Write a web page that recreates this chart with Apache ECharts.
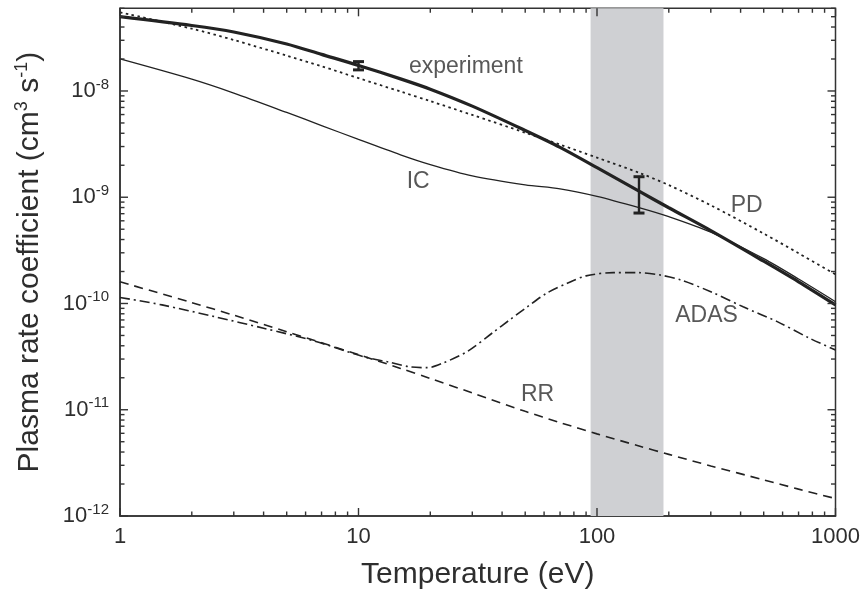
<!DOCTYPE html>
<html>
<head>
<meta charset="utf-8">
<script src="https://cdn.jsdelivr.net/npm/echarts@6/dist/echarts.min.js"></script>
<style>
  html, body { margin: 0; padding: 0; background: #ffffff; }
  #chart { width: 865px; height: 594px; }
</style>
</head>
<body>
<div id="chart"></div>
<script>
// Temperature grid (eV) shared by the experiment, IC, PD and RR curves
const temperature = [1, 2, 3, 5, 7, 10, 15, 20, 30, 50, 70, 100, 150, 200, 300, 500, 700, 1000];

// Plasma rate coefficients (cm^3 s^-1)
const experiment = [5.0e-8, 4.13e-8, 3.59e-8, 2.77e-8, 2.21e-8, 1.74e-8, 1.30e-8, 1.04e-8, 7.2e-9, 4.25e-9,
                    2.95e-9, 1.9e-9, 1.14e-9, 7.96e-10, 4.85e-10, 2.5e-10, 1.6e-10, 9.7e-11];
const ic = [2.0e-8, 1.29e-8, 9.55e-9, 6.28e-9, 4.73e-9, 3.5e-9, 2.51e-9, 2.03e-9, 1.59e-9, 1.31e-9,
            1.2e-9, 1.02e-9, 7.98e-10, 6.56e-10, 4.68e-10, 2.64e-10, 1.7e-10, 1.04e-10];
const pd = [5.5e-8, 3.86e-8, 3.02e-8, 2.15e-8, 1.71e-8, 1.32e-8, 9.88e-9, 8.02e-9, 5.95e-9, 4.05e-9,
            3.13e-9, 2.36e-9, 1.7e-9, 1.3e-9, 8.4e-10, 4.55e-10, 2.97e-10, 1.88e-10];
const rr = [1.6e-10, 1.02e-10, 7.76e-11, 5.42e-11, 4.27e-11, 3.3e-11, 2.45e-11, 1.97e-11, 1.44e-11, 9.66e-12,
            7.57e-12, 5.93e-12, 4.56e-12, 3.8e-12, 2.96e-12, 2.19e-12, 1.79e-12, 1.46e-12];

// ADAS has its own, denser temperature grid around the resonance bump
const adasT = [1, 1.5, 2.5, 4, 6.5, 10.5, 13.5, 16.5, 19.5, 22.5, 28.5, 37, 43, 51, 61.5, 75, 90,
               117, 150, 185, 225, 300, 410, 570, 780, 1000];
const adas = [1.14e-10, 9.7e-11, 7.5e-11, 5.85e-11, 4.45e-11, 3.16e-11, 2.8e-11, 2.53e-11, 2.49e-11,
              2.74e-11, 3.52e-11, 5.43e-11, 7.0e-11, 9.3e-11, 1.25e-10, 1.55e-10, 1.82e-10, 1.95e-10,
              1.95e-10, 1.85e-10, 1.66e-10, 1.29e-10, 9.3e-11, 6.75e-11, 4.7e-11, 3.65e-11];

// Measured points with uncertainty
const errT = [10, 150];
const errLow = [1.58e-8, 7.1e-10];
const errHigh = [1.89e-8, 1.56e-9];

// Shaded temperature range (eV)
const bandT = [94, 190];

// Curve annotations
const annoText = ['experiment', 'IC', 'PD', 'ADAS', 'RR'];
const annoT = [28.2, 17.8, 424, 288, 56.3];
const annoV = [1.68e-8, 1.4e-9, 8.36e-10, 7.66e-11, 1.4e-11];

// Axis ranges and labelled ticks
const xMin = 1, xMax = 1000;
const yMin = 1e-12, yMax = 6e-8;
const xTickLabels = ['1', '10', '100', '1000'];

const FONT = 'Liberation Sans, Arial, Helvetica, sans-serif';
const INK = '#222222';
const TEXT = '#2e2e2e';
const FRAME = '#333333';

// Tick marks for a log axis: every 1..9 x 10^e inside [lo, hi]; decades get the long mark
function logTicks(lo, hi) {
  const out = [];
  for (let e = Math.floor(Math.log10(lo)); e <= Math.ceil(Math.log10(hi)); e++) {
    for (let k = 1; k <= 9; k++) {
      const v = k * Math.pow(10, e);
      if (v >= lo * (1 - 1e-9) && v <= hi * (1 + 1e-9)) out.push([v, k === 1 ? 1 : 0]);
    }
  }
  return out;
}
const xTicks = logTicks(xMin, xMax);
const yTicks = logTicks(yMin, yMax);

const MAJOR_LEN = 8, MINOR_LEN = 4.5;
const TICK_STYLE = { stroke: FRAME, lineWidth: 1.4 };

const zip = (xs, ys) => xs.map((x, i) => [x, ys[i]]);

function isPow10(v) {
  const e = Math.log10(v);
  return Math.abs(e - Math.round(e)) < 1e-6;
}

// A custom series that draws inward tick marks along one edge of the frame;
// the frame edges come from the axes themselves
function tickSeries(edge) {
  const horizontal = edge === 'bottom' || edge === 'top';
  const data = horizontal ? xTicks.map(t => [t[0], yMin, t[1]]) : yTicks.map(t => [xMin, t[0], t[1]]);
  return {
    name: 'ticks-' + edge, type: 'custom', silent: true, z: 11, clip: false,
    encode: { x: 0, y: 1 },
    data: data,
    renderItem: (params, api) => {
      const len = api.value(2) ? MAJOR_LEN : MINOR_LEN;
      const p = api.coord([api.value(0), api.value(1)]);
      const lowCorner = api.coord([xMin, yMin]);
      const highCorner = api.coord([xMax, yMax]);
      let shape;
      if (edge === 'bottom') {
        shape = { x1: p[0], y1: lowCorner[1], x2: p[0], y2: lowCorner[1] - len };
      } else if (edge === 'top') {
        shape = { x1: p[0], y1: highCorner[1], x2: p[0], y2: highCorner[1] + len };
      } else if (edge === 'left') {
        shape = { x1: lowCorner[0], y1: p[1], x2: lowCorner[0] + len, y2: p[1] };
      } else {
        shape = { x1: highCorner[0], y1: p[1], x2: highCorner[0] - len, y2: p[1] };
      }
      return { type: 'line', shape: shape, style: TICK_STYLE };
    }
  };
}

const chart = echarts.init(document.getElementById('chart'), null, { renderer: 'canvas' });

const lineBase = { type: 'line', symbol: 'none', smooth: 0.3, silent: true, z: 3 };

chart.setOption({
  animation: false,
  backgroundColor: '#ffffff',
  textStyle: { fontFamily: FONT },
  grid: {
    left: 120, right: 29.5, top: 8.3, bottom: 78, containLabel: false, outerBoundsMode: 'none',
    show: true, borderColor: FRAME, borderWidth: 1.5
  },
  xAxis: {
    type: 'log', logBase: 10, min: xMin, max: xMax,
    axisLine: { show: true, lineStyle: { color: FRAME, width: 1.5 } },
    axisTick: { show: false },
    splitLine: { show: false },
    minorTick: { show: false },
    name: 'Temperature (eV)', nameLocation: 'middle', nameGap: 44,
    nameTextStyle: { fontSize: 30, color: TEXT, fontFamily: FONT },
    axisLabel: {
      show: true, margin: 10, fontSize: 22, color: TEXT, fontFamily: FONT,
      formatter: v => isPow10(v) ? (xTickLabels[Math.round(Math.log10(v))] || '') : ''
    }
  },
  yAxis: {
    type: 'log', logBase: 10, min: yMin, max: yMax,
    axisLine: { show: true, lineStyle: { color: FRAME, width: 1.5 } },
    axisTick: { show: false },
    splitLine: { show: false },
    minorTick: { show: false },
    name: 'Plasma rate coefficient (cm{sup|3} s{sup|-1})', nameLocation: 'middle', nameGap: 73,
    nameTextStyle: {
      fontSize: 30, color: TEXT, fontFamily: FONT,
      rich: { sup: { fontSize: 18, color: TEXT, fontFamily: FONT, padding: [0, 0, 16, 0] } }
    },
    axisLabel: {
      show: true, margin: 11, color: TEXT,
      formatter: v => isPow10(v) ? '{b|10}{s|' + Math.round(Math.log10(v)) + '}' : '',
      rich: {
        b: { fontSize: 22, color: TEXT, fontFamily: FONT },
        s: { fontSize: 15, color: TEXT, fontFamily: FONT, padding: [0, 0, 13, 0] }
      }
    }
  },
  series: [
    {
      // shaded temperature window
      type: 'line', data: [], silent: true,
      markArea: {
        silent: true,
        itemStyle: { color: '#cfd0d3' },
        data: [[{ xAxis: bandT[0] }, { xAxis: bandT[1] }]]
      },
      z: 1
    },
    Object.assign({}, lineBase, { name: 'RR', data: zip(temperature, rr),
      lineStyle: { color: INK, width: 1.6, type: [9, 6] } }),
    Object.assign({}, lineBase, { name: 'ADAS', data: zip(adasT, adas),
      lineStyle: { color: INK, width: 1.6, type: [10, 4, 2, 4] } }),
    Object.assign({}, lineBase, { name: 'PD', data: zip(temperature, pd),
      lineStyle: { color: INK, width: 1.8, type: [2.5, 3.5] } }),
    Object.assign({}, lineBase, { name: 'IC', data: zip(temperature, ic),
      lineStyle: { color: INK, width: 1.3 } }),
    Object.assign({}, lineBase, { name: 'experiment', data: zip(temperature, experiment),
      lineStyle: { color: INK, width: 3.2 } }),
    {
      name: 'measurement', type: 'custom', silent: true, z: 5,
      encode: { x: 0, y: [1, 2] },
      data: errT.map((t, i) => [t, errLow[i], errHigh[i]]),
      renderItem: (params, api) => {
        const lo = api.coord([api.value(0), api.value(1)]);
        const hi = api.coord([api.value(0), api.value(2)]);
        const w = 5.5;
        const st = { stroke: INK, lineWidth: 2.4 };
        const cap = { stroke: INK, lineWidth: 3 };
        return {
          type: 'group',
          children: [
            { type: 'line', shape: { x1: lo[0], y1: lo[1], x2: hi[0], y2: hi[1] }, style: st },
            { type: 'line', shape: { x1: lo[0] - w, y1: lo[1], x2: lo[0] + w, y2: lo[1] }, style: cap },
            { type: 'line', shape: { x1: hi[0] - w, y1: hi[1], x2: hi[0] + w, y2: hi[1] }, style: cap }
          ]
        };
      }
    },
    tickSeries('bottom'),
    tickSeries('top'),
    tickSeries('left'),
    tickSeries('right'),
    {
      name: 'labels', type: 'scatter', silent: true,
      symbolSize: 0, z: 6,
      data: annoText.map((s, i) => [annoT[i], annoV[i], s]),
      label: {
        show: true, position: 'inside', fontSize: 23, color: TEXT, fontFamily: FONT,
        formatter: p => p.data[2]
      }
    }
  ]
});
</script>
</body>
</html>
